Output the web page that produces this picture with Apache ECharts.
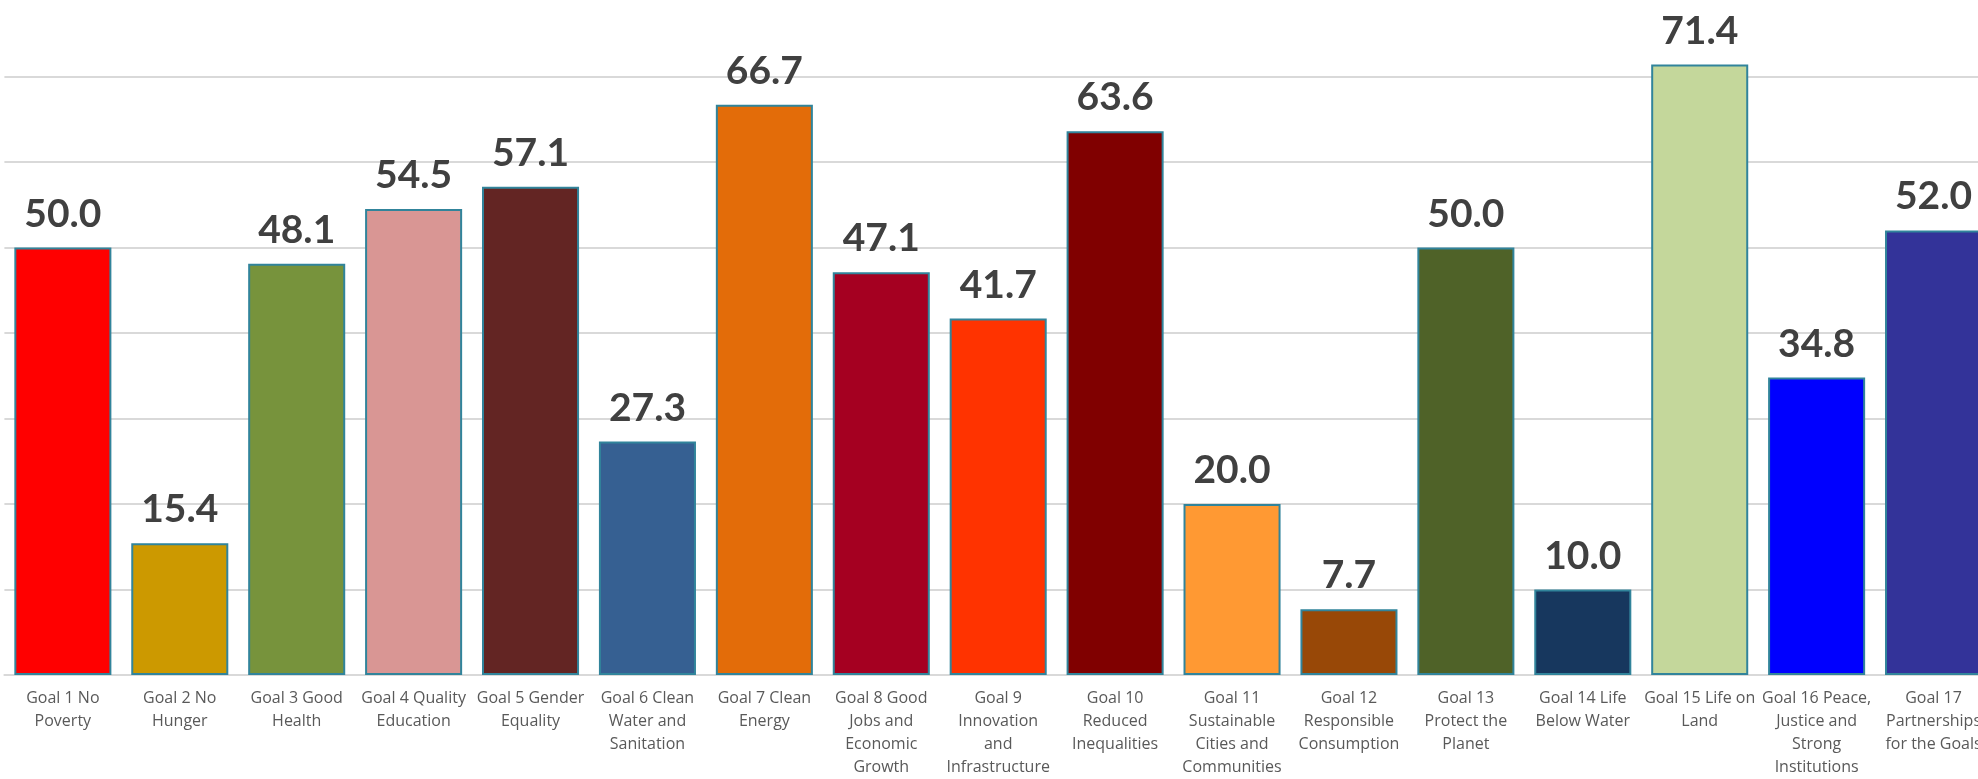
<!DOCTYPE html>
<html>
<head>
<meta charset="utf-8">
<script src="https://cdn.jsdelivr.net/npm/echarts@6/dist/echarts.min.js"></script>
<style>
html,body{margin:0;padding:0;background:#fff;overflow:hidden;width:1978px;height:779px;position:relative;}
#chart{position:absolute;left:0;top:-9px;width:1992px;height:788px;}
</style>
</head>
<body>
<div id="chart"></div>
<script>
const categories = [
  "Goal 1 No\nPoverty",
  "Goal 2 No\nHunger",
  "Goal 3 Good\nHealth",
  "Goal 4 Quality\nEducation",
  "Goal 5 Gender\nEquality",
  "Goal 6 Clean\nWater and\nSanitation",
  "Goal 7 Clean\nEnergy",
  "Goal 8 Good\nJobs and\nEconomic\nGrowth",
  "Goal 9\nInnovation\nand\nInfrastructure",
  "Goal 10\nReduced\nInequalities",
  "Goal 11\nSustainable\nCities and\nCommunities",
  "Goal 12\nResponsible\nConsumption",
  "Goal 13\nProtect the\nPlanet",
  "Goal 14 Life\nBelow Water",
  "Goal 15 Life on\nLand",
  "Goal 16 Peace,\nJustice and\nStrong\nInstitutions",
  "Goal 17\nPartnerships\nfor the Goals"
];
const values = [50.0, 15.4, 48.1, 54.5, 57.1, 27.3, 66.7, 47.1, 41.7, 63.6, 20.0, 7.7, 50.0, 10.0, 71.4, 34.8, 52.0];
const barColors = ["#FF0000", "#CC9900", "#77933C", "#D99694", "#632523", "#366092", "#E36C09", "#A50021", "#FF3300", "#800000", "#FF9933", "#984807", "#4F6228", "#17375E", "#C4D79B", "#0000FF", "#333399"];
const yTicks = [0, 10, 20, 30, 40, 50, 60, 70, 80];

const chart = echarts.init(document.getElementById('chart'));
chart.setOption({
  animation: false,
  backgroundColor: '#ffffff',
  grid: { left: 4.4, right: 0, top: 0, bottom: 101.5, containLabel: false },
  xAxis: {
    type: 'category',
    data: categories,
    axisTick: { show: false },
    axisLine: { show: true, lineStyle: { color: '#d9d9d9', width: 2 } },
    axisLabel: {
      interval: 0,
      color: '#595959',
      fontFamily: 'Open Sans',
      fontSize: 16,
      lineHeight: 23,
      margin: 12
    }
  },
  yAxis: {
    type: 'value',
    min: yTicks[0],
    max: yTicks[yTicks.length - 1],
    interval: 10,
    axisLabel: { show: false },
    axisLine: { show: false },
    axisTick: { show: false },
    splitLine: { show: true, lineStyle: { color: '#d9d9d9', width: 2 } }
  },
  series: [{
    type: 'bar',
    barCategoryGap: '17%',
    data: values.map((v, i) => ({
      value: v,
      itemStyle: { color: barColors[i], borderColor: '#31849B', borderWidth: 2 }
    })),
    label: {
      show: true,
      position: 'top',
      distance: 14,
      color: '#404040',
      fontFamily: 'Lato',
      fontWeight: 'bold',
      fontSize: 39,
      formatter: p => p.value.toFixed(1)
    }
  }]
});
</script>
</body>
</html>
